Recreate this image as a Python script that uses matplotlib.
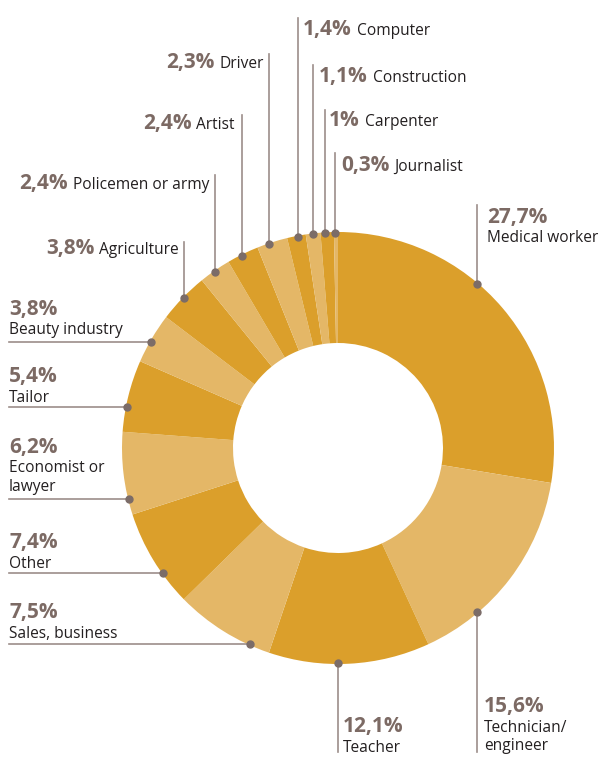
import math
import matplotlib.pyplot as plt

plt.rcParams['font.family'] = ['Open Sans', 'DejaVu Sans']

# occupation shares, clockwise from 12 o'clock
categories = ['Medical worker', 'Technician/\nengineer', 'Teacher', 'Sales, business',
              'Other', 'Economist or\nlawyer', 'Tailor', 'Beauty industry',
              'Agriculture', 'Policemen or army', 'Artist', 'Driver', 'Computer',
              'Construction', 'Carpenter', 'Journalist']
shares = [27.7, 15.6, 12.1, 7.5, 7.4, 6.2, 5.4, 3.8, 3.8, 2.4, 2.4, 2.3, 1.4, 1.1, 1.0, 0.3]

DARK = '#DB9F2B'
LIGHT = '#E4B767'
PCT_COLOR = '#7C6A64'
TEXT_COLOR = '#231F20'
LINE_COLOR = '#9C8E8A'
DOT_COLOR = '#7B6C68'

CX, CY, R, RING = 338, 448, 216, 111

# (kind, line position, line end, text x, first baseline) in pixel coordinates
label_layout = [
    ('stack_up', 477, 205, 487, 223),
    ('stack_down', 477, 752, 484, 712),
    ('stack_down', 338, 752, 343, 732),
    ('left', 644, 9, 9, 618),
    ('left', 573, 9, 9, 548),
    ('left', 499, 9, 9, 453),
    ('left', 407, 9, 9, 382),
    ('left', 342, 9, 9, 315),
    ('inline_l', 184, 242, 179, 254),
    ('inline_l', 215, 175, 209, 189),
    ('inline_l', 242, 115, 235, 129),
    ('inline_l', 269, 54, 264, 68),
    ('inline_r', 298, 18, 303, 35),
    ('inline_r', 313, 65, 319, 82),
    ('inline_r', 325, 110, 329, 126),
    ('inline_r', 335, 153, 341, 171),
]

PCT_SIZE = 15
NAME_SIZE = 11.2

fig = plt.figure(figsize=(6.01, 7.80), dpi=100)
ax = fig.add_axes([0, 0, 1, 1])

colors = [DARK if i % 2 == 0 else LIGHT for i in range(len(shares))]
# y axis runs downward, so counterclock in data space reads clockwise on screen
ax.pie(shares, radius=R, center=(CX, CY), startangle=-90, counterclock=True,
       colors=colors, wedgeprops=dict(width=RING, linewidth=0), frame=True)
ax.set_xlim(0, 601)
ax.set_ylim(780, 0)
ax.set_aspect('equal')
ax.axis('off')

renderer = fig.canvas.get_renderer()


def pct_text(v):
    return f"{v:g}".replace('.', ',') + '%'


def text_width(t):
    return t.get_window_extent(renderer).width


for name, v, (kind, pos, end, tx, base) in zip(categories, shares, label_layout):
    rd = R - 1
    if kind == 'left':
        dot = (CX - math.sqrt(rd ** 2 - (pos - CY) ** 2), pos)
        ax.plot([end, dot[0]], [pos, pos], color=LINE_COLOR, lw=1.2, zorder=3)
    else:
        dy = math.sqrt(rd ** 2 - (pos - CX) ** 2)
        dot = (pos, CY + dy if kind == 'stack_down' else CY - dy)
        ax.plot([pos, pos], [dot[1], end], color=LINE_COLOR, lw=1.2, zorder=3)
    ax.plot(*dot, 'o', ms=5, color=DOT_COLOR, zorder=4)

    pct = pct_text(v)
    if kind in ('stack_up', 'stack_down', 'left'):
        ax.text(tx, base, pct, fontsize=PCT_SIZE, fontweight='bold', color=PCT_COLOR,
                ha='left', va='baseline')
        for i, line in enumerate(name.split('\n')):
            ax.text(tx, base + 19.5 + i * 18.5, line, fontsize=NAME_SIZE,
                    color=TEXT_COLOR, ha='left', va='baseline')
    elif kind == 'inline_r':
        t = ax.text(tx, base, pct, fontsize=PCT_SIZE, fontweight='bold',
                    color=PCT_COLOR, ha='left', va='baseline')
        ax.text(tx + text_width(t) + 5, base, name, fontsize=NAME_SIZE,
                color=TEXT_COLOR, ha='left', va='baseline')
    else:
        t = ax.text(tx, base, name, fontsize=NAME_SIZE, color=TEXT_COLOR,
                    ha='right', va='baseline')
        ax.text(tx - text_width(t) - 5, base, pct, fontsize=PCT_SIZE,
                fontweight='bold', color=PCT_COLOR, ha='right', va='baseline')

fig.savefig('out.png', dpi=100)
